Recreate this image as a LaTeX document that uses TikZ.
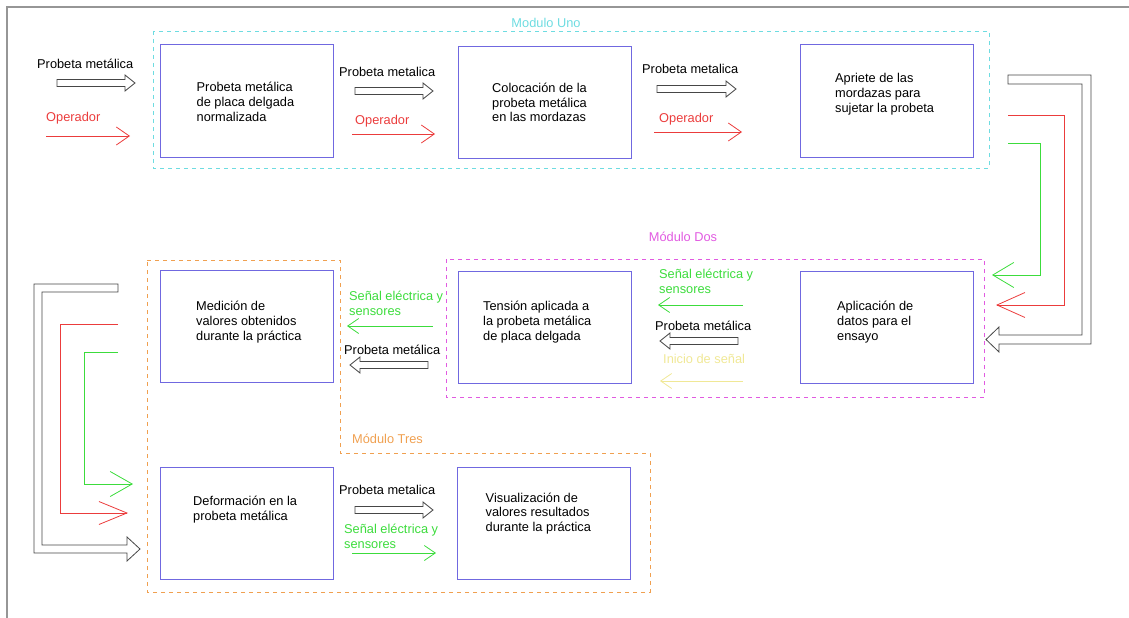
\documentclass[tikz,border=0pt]{standalone}
\usepackage{fontspec}
\setmainfont{Liberation Sans}
\usetikzlibrary{arrows.meta,calc}
\definecolor{boxblue}{RGB}{112,104,224}
\definecolor{modcyan}{RGB}{110,220,225}
\definecolor{modmag}{RGB}{225,90,225}
\definecolor{modora}{RGB}{240,160,80}
\definecolor{myred}{RGB}{235,60,60}
\definecolor{mygreen}{RGB}{60,220,60}
\definecolor{myyellow}{RGB}{240,232,150}
\definecolor{pipe}{RGB}{70,70,70}
\definecolor{framegray}{RGB}{150,150,150}
\tikzset{
  x=1pt, y=-1pt,
  every node/.style={font=\fontsize{12.8}{14.7}\selectfont, inner sep=0pt},
  box/.style={draw=boxblue, line width=1pt, minimum width=173pt, minimum height=112pt},
  btxt/.style={align=left, anchor=west},
  lbl/.style={align=left, anchor=west},
  hollowst/.style={draw=pipe, line width=0.8pt, fill=white},
  redarr/.style={draw=myred, line width=0.8pt, -{Straight Barb[length=13pt,width=18pt]}},
  greenarr/.style={draw=mygreen, line width=0.8pt, -{Straight Barb[length=11pt,width=15pt]}},
  yelarr/.style={draw=myyellow, line width=0.8pt, -{Straight Barb[length=11pt,width=15pt]}},
  modbox/.style={dash pattern=on 4pt off 4pt, line width=0.9pt},
}
\newcommand{\hollowarrow}[2]{%
  \draw[hollowst] let \p1=(#1), \p2=(#2), \p3=($(#2)!10pt!(#1)$) in
    (\x1,\y1+3.5pt) -- (\x3,\y1+3.5pt) -- (\x3,\y1+8pt) -- (\x2,\y2) --
    (\x3,\y1-8pt) -- (\x3,\y1-3.5pt) -- (\x1,\y1-3.5pt) -- cycle;}
\begin{document}
\begin{tikzpicture}
\useasboundingbox (0,0) rectangle (1129,618);
% frame
\draw[framegray, line width=1.5pt] (1129,7) -- (7,7) -- (7,618);

% module boxes
\draw[modbox, draw=modcyan] (153,31) rectangle (989,168);
\node[text=modcyan] (mUno) at (546,23) {Modulo Uno};
\draw[modbox, draw=modmag] (446,259) rectangle (984,397);
\node[text=modmag] (mDos) at (683,237) {Módulo Dos};
\draw[modbox, draw=modora] (147,260) -- (340,260) -- (340,453) -- (650,453) -- (650,592) -- (147,592) -- cycle;
\node[lbl, text=modora] (mTres) at (352,439) {Módulo Tres};

% process boxes
\node[box] (b1) at (246.5,101) {};
\node[box] (b2) at (545,102.5) {};
\node[box] (b3) at (887,101) {};
\node[box] (b4) at (545,327) {};
\node[box] (b5) at (887,327) {};
\node[box] (b6) at (247,326.5) {};
\node[box] (b7) at (247,523) {};
\node[box] (b8) at (543.5,523) {};

\node[btxt] (t1) at ($(b1.west)+(37,1)$) {Probeta metálica\\de placa delgada\\normalizada};
\node[btxt] (t2) at ($(b2.west)+(34,0)$) {Colocación de la\\probeta metálica\\en las mordazas};
\node[btxt] (t3) at ($(b3.west)+(35,-7)$) {Apriete de las\\mordazas para\\sujetar la probeta};
\node[btxt] (t4) at ($(b4.west)+(25,-5)$) {Tensión aplicada a\\la probeta metálica\\de placa delgada};
\node[btxt] (t5) at ($(b5.west)+(37,-5)$) {Aplicación de\\datos para el\\ensayo};
\node[btxt] (t6) at ($(b6.west)+(36,-4.5)$) {Medición de\\valores obtenidos\\durante la práctica};
\node[btxt] (t7) at ($(b7.west)+(33,-13.5)$) {Deformación en la\\probeta metálica};
\node[btxt] (t8) at ($(b8.west)+(29,-9.5)$) {Visualización de\\valores resultados\\durante la práctica};

% row 1 labels and arrows
\node[lbl] (l1) at (37,64) {Probeta metálica};
\node[lbl, text=myred] (l2) at (46,118) {Operador};
\node[lbl] (l3) at (339,72) {Probeta metalica};
\node[lbl, text=myred] (l4) at (355,121) {Operador};
\node[lbl] (l5) at (642,69) {Probeta metalica};
\node[lbl, text=myred] (l6) at (659,119) {Operador};

\coordinate (h1s) at (57,83);   \coordinate (h1e) at (135,83);
\coordinate (h2s) at (355,91);  \coordinate (h2e) at (433,91);
\coordinate (h3s) at (657,89);  \coordinate (h3e) at (736,89);
\hollowarrow{h1s}{h1e}
\hollowarrow{h2s}{h2e}
\hollowarrow{h3s}{h3e}
\coordinate (r1s) at (46,136);  \coordinate (r1e) at (130,136);
\coordinate (r2s) at (352,134); \coordinate (r2e) at (435,134);
\coordinate (r3s) at (654,132); \coordinate (r3e) at (742,132);
\draw[redarr] (r1s) -- (r1e);
\draw[redarr] (r2s) -- (r2e);
\draw[redarr] (r3s) -- (r3e);

% row 2 labels and arrows
\node[lbl, text=mygreen] (l7) at (659,281.5) {Señal eléctrica y\\sensores};
\node[lbl] (l8) at (655,326) {Probeta metálica};
\node[lbl, text=myyellow] (l9) at (663,359) {Inicio de señal};
\node[lbl, text=mygreen] (l10) at (349,303.5) {Señal eléctrica y\\sensores};
\node[lbl] (l11) at (344,350) {Probeta metálica};
\coordinate (g1s) at (743,305); \coordinate (g1e) at (658,305);
\coordinate (y1s) at (743,381); \coordinate (y1e) at (660,381);
\coordinate (g2s) at (433,326); \coordinate (g2e) at (347,326);
\draw[greenarr] (g1s) -- (g1e);
\draw[yelarr] (y1s) -- (y1e);
\draw[greenarr] (g2s) -- (g2e);
\coordinate (h4s) at (738,341); \coordinate (h4e) at (660,341);
\coordinate (h5s) at (428,365); \coordinate (h5e) at (350,365);
\hollowarrow{h4s}{h4e}
\hollowarrow{h5s}{h5e}

% row 3 labels and arrows
\node[lbl] (l12) at (339,490) {Probeta metalica};
\node[lbl, text=mygreen] (l13) at (344,536.5) {Señal eléctrica y\\sensores};
\coordinate (h6s) at (355,510); \coordinate (h6e) at (433,510);
\hollowarrow{h6s}{h6e}
\coordinate (g3s) at (352,553); \coordinate (g3e) at (436,553);
\draw[greenarr] (g3s) -- (g3e);

% right-hand connectors (module 1 -> module 2)
\draw[hollowst] (1008,75) -- (1091,75) -- (1091,344) -- (999,344) -- (999,352)
  -- (986,339.5) -- (999,327) -- (999,335) -- (1082,335) -- (1082,84) -- (1008,84) -- cycle;
\coordinate (rrs) at (1008,115); \coordinate (rre) at (996,305);
\draw[draw=myred, line width=0.8pt, -{Straight Barb[length=28pt,width=25pt]}] (rrs) -- ++(56,0) |- (rre);
\coordinate (rgs) at (1008,143); \coordinate (rge) at (992,275);
\draw[draw=mygreen, line width=0.8pt, -{Straight Barb[length=21pt,width=25pt]}] (rgs) -- ++(32,0) |- (rge);

% left-hand connectors (module 2 -> module 3)
\draw[hollowst] (118,284) -- (34,284) -- (34,553) -- (127,553) -- (127,561)
  -- (140,549) -- (127,537) -- (127,545) -- (42,545) -- (42,292) -- (118,292) -- cycle;
\coordinate (lrs) at (118,324); \coordinate (lre) at (128,513);
\draw[draw=myred, line width=0.8pt, -{Straight Barb[length=28pt,width=23pt]}] (lrs) -- ++(-58,0) |- (lre);
\coordinate (lgs) at (118,352); \coordinate (lge) at (133,484);
\draw[draw=mygreen, line width=0.8pt, -{Straight Barb[length=22pt,width=25pt]}] (lgs) -- ++(-34,0) |- (lge);
\end{tikzpicture}
\end{document}
